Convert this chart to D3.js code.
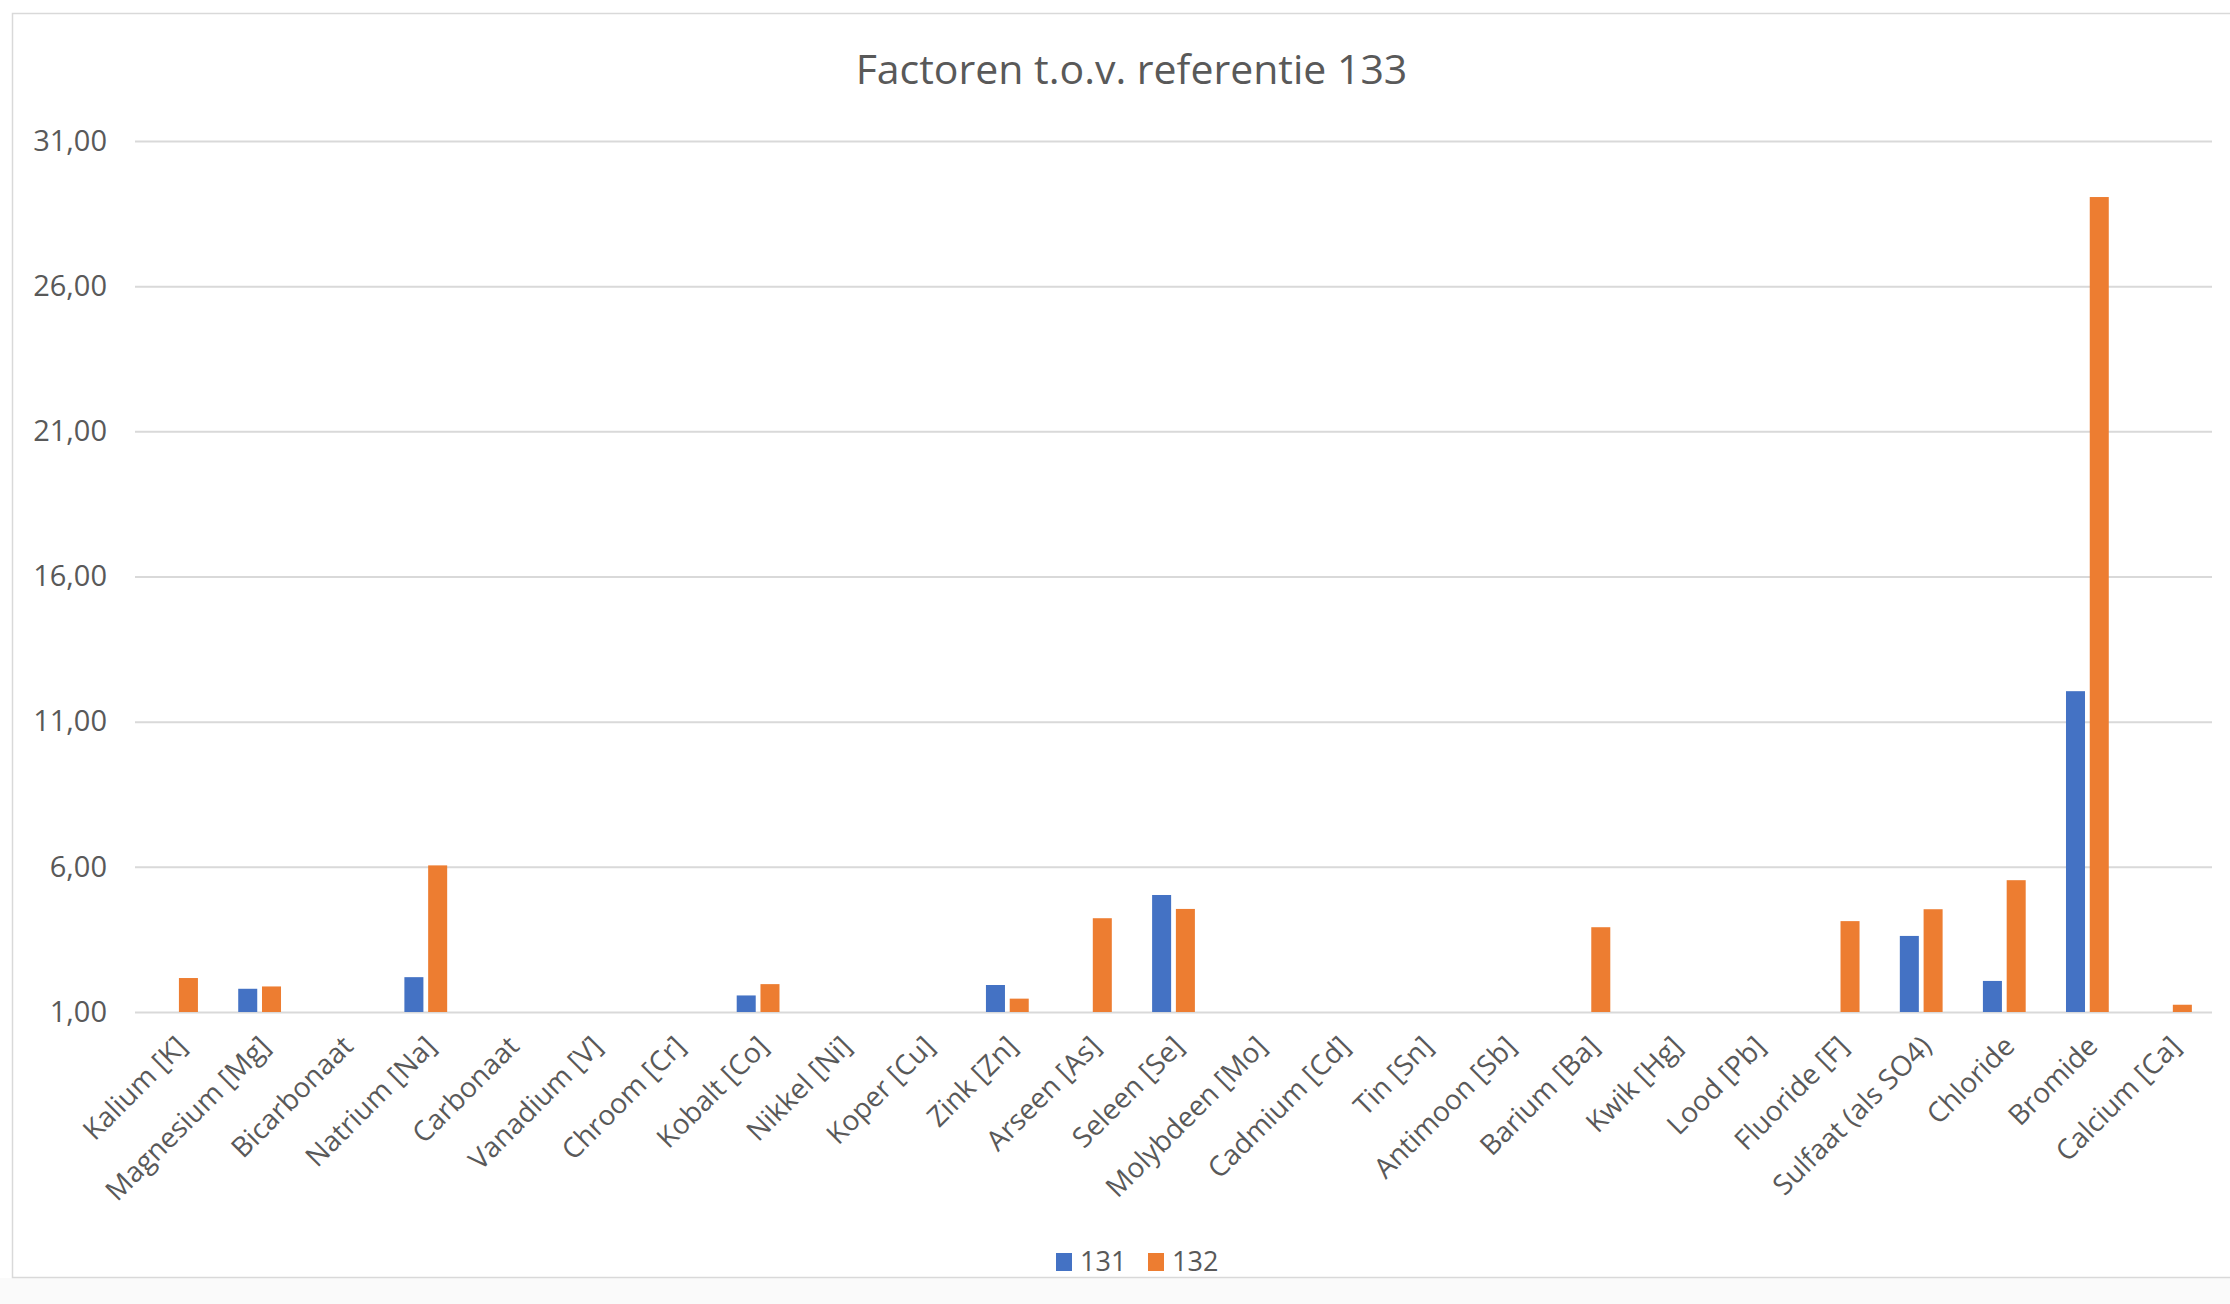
<!DOCTYPE html>
<html>
<head>
<meta charset="utf-8">
<script src="https://cdn.jsdelivr.net/npm/d3@7"></script>
<style>
  html, body { margin: 0; padding: 0; background: #ffffff; }
  svg { display: block; }
  text { font-family: "Open Sans", "Liberation Sans", sans-serif; fill: #595959; }
</style>
</head>
<body>
<svg id="chart" width="2230" height="1304"></svg>
<script>
const title = "Factoren t.o.v. referentie 133";
const categories = ["Kalium [K]", "Magnesium [Mg]", "Bicarbonaat", "Natrium [Na]", "Carbonaat",
  "Vanadium [V]", "Chroom [Cr]", "Kobalt [Co]", "Nikkel [Ni]", "Koper [Cu]", "Zink [Zn]",
  "Arseen [As]", "Seleen [Se]", "Molybdeen [Mo]", "Cadmium [Cd]", "Tin [Sn]", "Antimoon [Sb]",
  "Barium [Ba]", "Kwik [Hg]", "Lood [Pb]", "Fluoride [F]", "Sulfaat (als SO4)", "Chloride",
  "Bromide", "Calcium [Ca]"];
const seriesNames = ["131", "132"];
const values131 = [null, 1.80, null, 2.20, null, null, null, 1.57, null, null, 1.93,
  null, 5.03, null, null, null, null, null, null, null, null, 3.62, 2.07, 12.05, null];
const values132 = [2.17, 1.88, null, 6.05, null, null, null, 1.96, null, null, 1.46,
  4.23, 4.55, null, null, null, null, 3.92, null, null, 4.13, 4.54, 5.54, 29.07, 1.25];
const yTicks = [1, 6, 11, 16, 21, 26, 31];
const colors = ["#4472C4", "#ED7D31"];

const svg = d3.select("#chart");
const W = 2230, H = 1304;
const m = { left: 135, right: 2212, top: 141, bottom: 1012 };

// frame
svg.append("rect").attr("x", 0).attr("y", 1278).attr("width", W).attr("height", H - 1278).attr("fill", "#fafafa");
svg.append("rect").attr("x", 12.5).attr("y", 13.5).attr("width", W + 10).attr("height", 1264)
  .attr("fill", "#ffffff").attr("stroke", "#d9d9d9").attr("stroke-width", 1.5);

const x0 = d3.scaleBand().domain(categories).range([m.left, m.right]).padding(0);
const bw = x0.bandwidth();
const gw = bw * 0.515;
const x1 = d3.scaleBand().domain(seriesNames).range([(bw - gw) / 2, (bw + gw) / 2]).paddingInner(0.2).paddingOuter(0);
const y = d3.scaleLinear().domain([1, 31]).range([m.bottom, m.top]);

const fmt = d3.formatLocale({ decimal: ",", thousands: ".", grouping: [3], currency: ["€", ""] }).format(".2f");

// gridlines + y labels
const yAxis = d3.axisLeft(y).tickValues(yTicks).tickSize(-(m.right - m.left)).tickPadding(28).tickFormat(fmt);
const gy = svg.append("g").attr("transform", `translate(${m.left},0)`).call(yAxis);
gy.select(".domain").remove();
gy.selectAll(".tick line").attr("stroke", "#d9d9d9").attr("stroke-width", 2);
gy.selectAll(".tick text").attr("font-size", 29).attr("fill", "#595959")
  .attr("font-family", "'Open Sans', sans-serif");

// bars
const seriesData = [values131, values132];
const groups = svg.append("g");
seriesNames.forEach((s, si) => {
  const arr = seriesData[si];
  groups.selectAll(null)
    .data(categories.map((c, i) => ({ c, v: arr[i] })).filter(d => d.v != null))
    .enter().append("rect")
    .attr("x", d => x0(d.c) + x1(s))
    .attr("width", x1.bandwidth())
    .attr("y", d => y(d.v))
    .attr("height", d => y(1) - y(d.v))
    .attr("fill", colors[si]);
});

// x labels
const xAxis = d3.axisBottom(x0).tickSize(0).tickPadding(0);
const gx = svg.append("g").attr("transform", `translate(0,${m.bottom})`).call(xAxis);
gx.select(".domain").remove();
gx.selectAll(".tick text")
  .attr("font-size", 28).attr("fill", "#595959").attr("font-family", "'Open Sans', sans-serif")
  .attr("text-anchor", "end").attr("dy", 0).attr("y", 0)
  .attr("transform", "translate(12,36) rotate(-45)");

// title
svg.append("text").attr("x", (m.left + m.right) / 2 - 42).attr("y", 84)
  .attr("text-anchor", "middle").attr("font-size", 41).attr("fill", "#595959").text(title);

// legend
const legend = svg.append("g").attr("transform", "translate(1056,1262)");
const legendX = [0, 92];
seriesNames.forEach((s, i) => {
  const g = legend.append("g").attr("transform", `translate(${legendX[i]},0)`);
  g.append("rect").attr("x", 0).attr("y", -9).attr("width", 16).attr("height", 18).attr("fill", colors[i]);
  g.append("text").attr("x", 24).attr("y", 0).attr("dy", "0.35em").attr("font-size", 27).text(s);
});
</script>
</body>
</html>
